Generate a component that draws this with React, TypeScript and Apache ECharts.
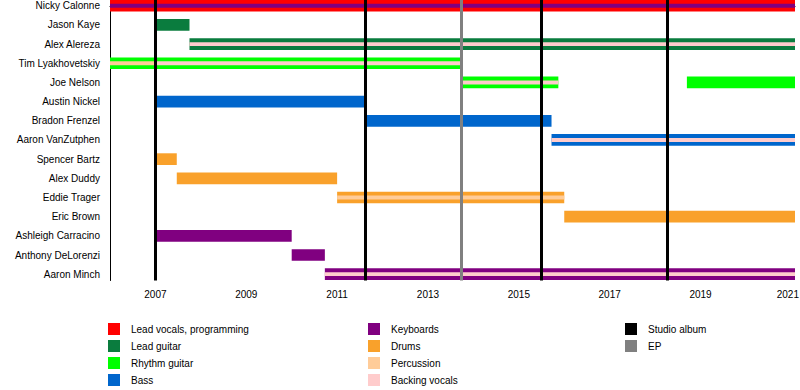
import React, { useEffect, useRef } from "react";
import * as echarts from "echarts";

const members = [
  "Nicky Calonne",
  "Jason Kaye",
  "Alex Alereza",
  "Tim Lyakhovetskiy",
  "Joe Nelson",
  "Austin Nickel",
  "Bradon Frenzel",
  "Aaron VanZutphen",
  "Spencer Bartz",
  "Alex Duddy",
  "Eddie Trager",
  "Eric Brown",
  "Ashleigh Carracino",
  "Anthony DeLorenzi",
  "Aaron Minch",
];

const START = 2006;
const END = 2021.08;

// [member, from, to]
const leadVocals: [string, number, number][] = [["Nicky Calonne", 2006, END]];
const leadGuitar: [string, number, number][] = [
  ["Jason Kaye", 2007, 2007.75],
  ["Alex Alereza", 2007.75, END],
];
const rhythmGuitar: [string, number, number][] = [
  ["Tim Lyakhovetskiy", 2006, 2013.73],
  ["Joe Nelson", 2013.73, 2015.87],
  ["Joe Nelson", 2018.7, END],
];
const bass: [string, number, number][] = [
  ["Austin Nickel", 2007, 2011.65],
  ["Bradon Frenzel", 2011.65, 2015.72],
  ["Aaron VanZutphen", 2015.72, END],
];
const keyboards: [string, number, number][] = [
  ["Ashleigh Carracino", 2007, 2010.0],
  ["Anthony DeLorenzi", 2010.0, 2010.73],
  ["Aaron Minch", 2010.73, END],
];
const keyboardsSecondary: [string, number, number][] = [["Nicky Calonne", 2006, END]];
const drums: [string, number, number][] = [
  ["Spencer Bartz", 2007, 2007.47],
  ["Alex Duddy", 2007.47, 2011.0],
  ["Eddie Trager", 2011.0, 2016.0],
  ["Eric Brown", 2016.0, END],
];
const percussionSecondary: [string, number, number][] = [
  ["Tim Lyakhovetskiy", 2006, 2007],
  ["Eddie Trager", 2011.0, 2016.0],
];
const backingVocalsSecondary: [string, number, number][] = [
  ["Alex Alereza", 2007.75, END],
  ["Tim Lyakhovetskiy", 2007, 2013.73],
  ["Joe Nelson", 2013.73, 2015.87],
  ["Aaron VanZutphen", 2015.72, END],
  ["Aaron Minch", 2010.73, END],
];

const studioAlbums = [2007.0, 2011.62, 2015.49, 2018.26];
const eps = [2013.73];

const xLabelYears = [2007, 2009, 2011, 2013, 2015, 2017, 2019, 2021];
const xTickYears = [2006, 2007, 2008, 2009, 2010, 2011, 2012, 2013, 2014, 2015, 2016, 2017, 2018, 2019, 2020, 2021];

const COLORS: Record<string, string> = {
  "Lead vocals, programming": "#ff0000",
  "Lead guitar": "#0a7c3e",
  "Rhythm guitar": "#00ff00",
  Bass: "#0066cc",
  Keyboards: "#800080",
  Drums: "#f9a12b",
  Percussion: "#ffcc99",
  "Backing vocals": "#ffcccc",
  "Studio album": "#000000",
  EP: "#808080",
};

const FONT = "'Liberation Sans', Arial, sans-serif";

function toData(list: [string, number, number][]) {
  return list.map(([m, a, b]) => [members.indexOf(m), a, b]);
}

function renderer(frac: number) {
  return (params: any, api: any) => {
    const row = api.value(0);
    const p1 = api.coord([api.value(1), row]);
    const p2 = api.coord([api.value(2), row]);
    const band = api.size([0, 1])[1];
    const h = band * 0.61 * frac;
    return {
      type: "rect",
      shape: { x: p1[0], y: p1[1] - h / 2, width: p2[0] - p1[0], height: h },
      style: { fill: api.visual("color") },
    };
  };
}

function barSeries(name: string, list: [string, number, number][], frac: number, z: number) {
  return {
    type: "custom",
    name,
    z,
    renderItem: renderer(frac),
    itemStyle: { color: COLORS[name] },
    encode: { x: [1, 2], y: 0 },
    data: toData(list),
    silent: true,
  };
}

function lineSeries(name: string, list: number[]) {
  return {
    type: "custom",
    name,
    z: 1,
    renderItem: () => null,
    itemStyle: { color: COLORS[name] },
    data: [],
    markLine: {
      silent: true,
      symbol: ["none", "none"],
      label: { show: false },
      lineStyle: { color: COLORS[name], width: 3, type: "solid", opacity: 1 },
      emphasis: { disabled: true },
      data: list.map((x) => ({ xAxis: x })),
    },
  };
}

export default function App() {
  const ref = useRef<HTMLDivElement>(null);
  useEffect(() => {
    if (!ref.current) return;
    const chart = echarts.init(ref.current, null, { renderer: "svg" });
    const legendCommon = {
      orient: "vertical",
      icon: "rect",
      itemWidth: 12,
      itemHeight: 12,
      itemGap: 5,
      padding: 0,
      selectedMode: false,
      textStyle: { fontSize: 10, color: "#000", fontFamily: FONT, padding: [0, 0, 0, 6] },
    };
    chart.setOption({
      animation: false,
      backgroundColor: "#fff",
      grid: { left: 110, right: 5, top: 0, height: 280.5, outerBoundsMode: "none" },
      legend: [
        { ...legendCommon, left: 108, top: 323, data: ["Lead vocals, programming", "Lead guitar", "Rhythm guitar", "Bass"] },
        { ...legendCommon, left: 368, top: 323, data: ["Keyboards", "Drums", "Percussion", "Backing vocals"] },
        { ...legendCommon, left: 625, top: 323, data: ["Studio album", "EP"] },
      ],
      xAxis: {
        type: "value",
        min: START,
        max: END,
        splitLine: { show: false },
        axisLine: { show: true, lineStyle: { color: "#000", width: 1 } },
        axisTick: { show: true, length: 4, customValues: xTickYears, lineStyle: { color: "#000" } },
        axisLabel: {
          customValues: xLabelYears,
          fontSize: 10,
          color: "#000",
          fontFamily: FONT,
          margin: 9,
          formatter: (v: number) => {
            const y = Math.round(v);
            return y === 2021 ? "{last|" + y + "}" : String(y);
          },
          rich: {
            last: { fontSize: 10, color: "#000", fontFamily: FONT, padding: [0, 7, 0, 0] },
          },
        },
      },
      yAxis: {
        type: "value",
        inverse: true,
        min: -0.3,
        max: 14.33,
        splitLine: { show: false },
        axisLine: { show: true, lineStyle: { color: "#000", width: 1 } },
        axisTick: { show: false },
        axisLabel: {
          customValues: members.map((_, i) => i),
          fontSize: 10,
          color: "#000",
          fontFamily: FONT,
          margin: 10,
          formatter: (v: number) => members[Math.round(v)] ?? "",
        },
      },
      series: [
        lineSeries("Studio album", studioAlbums),
        lineSeries("EP", eps),
        barSeries("Lead vocals, programming", leadVocals, 1, 2),
        barSeries("Lead guitar", leadGuitar, 1, 2),
        barSeries("Rhythm guitar", rhythmGuitar, 1, 2),
        barSeries("Bass", bass, 1, 2),
        barSeries("Keyboards", keyboards, 1, 2),
        barSeries("Drums", drums, 1, 2),
        barSeries("Keyboards", keyboardsSecondary, 1 / 3, 3),
        barSeries("Percussion", percussionSecondary, 1 / 3, 3),
        barSeries("Backing vocals", backingVocalsSecondary, 1 / 3, 3),
      ],
    });
    return () => chart.dispose();
  }, []);
  return <div ref={ref} style={{ width: 800, height: 390, position: "absolute", left: 0, top: 0 }} />;
}
